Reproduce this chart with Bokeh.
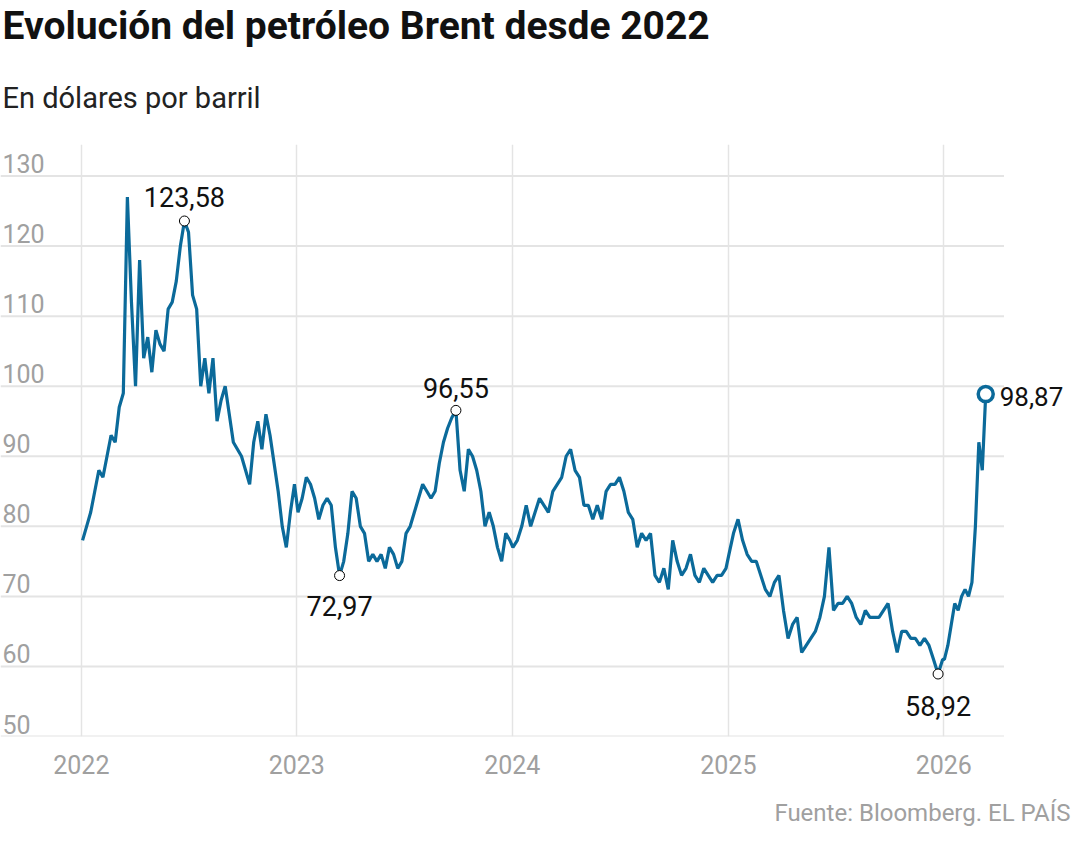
import pandas as pd
from bokeh.plotting import figure
from bokeh.models import Title, Label, FixedTicker, DatetimeTickFormatter, Range1d
from bokeh.core.properties import value
from bokeh.embed import file_html
from bokeh.resources import INLINE

v2022 = [78, 80, 82, 85, 88, 87, 90, 93, 92, 97, 99, 127, 112, 100, 118, 104, 107, 102, 108, 106,
         105, 111, 112, 115, 120, 123.58, 122, 113, 111, 100, 104, 99, 104, 95, 98, 100, 96,
         92, 91, 90, 88, 86, 92, 95, 91, 96, 93, 89, 85, 80, 77, 82, 86]
v2023 = [82, 84, 87, 86, 84, 81, 83, 84, 83, 77, 72.97, 75, 79, 85, 84, 80, 79, 75, 76, 75, 76,
         74, 77, 76, 74, 75, 79, 80, 82, 84, 86, 85, 84, 85, 89, 92, 94, 95.5, 96.55,
         88, 85, 91, 90, 88, 85, 80, 82, 80, 77, 75, 79, 78]
v2024 = [77, 78, 80, 83, 80, 82, 84, 83, 82, 85, 86, 87, 90, 91, 88, 87, 83, 83, 81, 83,
         81, 85, 86, 86, 87, 85, 82, 81, 77, 79, 78, 79, 73, 72, 74, 71, 78, 75, 73, 74, 76,
         73, 72, 74, 73, 72, 73, 73, 74]
v2025 = [76, 79, 81, 78, 76, 75, 75, 73, 71, 70, 72, 73, 68, 64, 66, 67, 62, 63, 64, 65,
         67, 70, 77, 68, 69, 69, 70, 69, 67, 66, 68, 67, 67, 67, 68, 69, 65, 62, 65, 65,
         64, 64, 63, 64, 63, 61, 58.92, 61]
v2026 = [61, 63, 66, 69, 68, 70, 71, 70, 72, 80, 92, 88, 98.87]

dates = []
values = []
for start, end, vals in [("2022-01-03", "2022-12-28", v2022), ("2023-01-03", "2023-12-28", v2023),
                         ("2024-01-02", "2024-12-28", v2024), ("2025-01-02", "2025-12-30", v2025),
                         ("2026-01-02", "2026-03-13", v2026)]:
    dates += list(pd.date_range(start, end, periods=len(vals)))
    values += vals

ann_vals = [123.58, 72.97, 96.55, 58.92]
ann_dates = [dates[values.index(v)] for v in ann_vals]
ann_text = ["123,58", "72,97", "96,55", "58,92"]
last_date = [dates[-1]]
last_val = [values[-1]]
yticks = [50, 60, 70, 80, 90, 100, 110, 120, 130]
ylabels = [str(t) for t in yticks]
xyears = [2022, 2023, 2024, 2025, 2026]

blue = "#0b6a9a"
gray = "#a0a0a0"
gridc = "#e4e4e4"
x0 = pd.Timestamp("2021-08-17")
x_grid_end = pd.Timestamp("2026-04-13")
y0, y1 = 50, 134.5

p = figure(width=1072, height=846, x_axis_type="datetime", output_backend="svg",
           toolbar_location=None,
           min_border_left=0, min_border_right=0, min_border_top=138, min_border_bottom=108,
           x_range=Range1d(x0, pd.Timestamp("2026-08-07")),
           y_range=Range1d(y0, y1))
p.outline_line_color = None

p.add_layout(Title(text="Fuente: Bloomberg. EL PAÍS", align="right", text_font="Roboto",
                   text_font_size="24px", text_color=gray, text_font_style="normal",
                   standoff=40, offset=2), "below")
p.add_layout(Title(text="En dólares por barril", text_font="Roboto", text_font_size="29px",
                   text_font_style="normal", text_color="#222222", offset=2, standoff=60), "above")
p.add_layout(Title(text="Evolución del petróleo Brent desde 2022", text_font="Roboto",
                   text_font_size="39px", text_font_style="bold", text_color="#111111",
                   offset=2, standoff=0), "above")

p.yaxis.visible = False
p.xaxis.ticker = FixedTicker(ticks=[pd.Timestamp(f"{y}-01-01").value / 1e6 for y in xyears])
p.xaxis.formatter = DatetimeTickFormatter(years="%Y", months="%Y", days="%Y")
p.xaxis.major_label_text_font = "Roboto"
p.xaxis.major_label_text_font_size = "25px"
p.xaxis.major_label_text_color = gray
p.xaxis.major_tick_line_color = None
p.xaxis.minor_tick_line_color = None
p.xaxis.axis_line_color = None
p.xaxis.major_label_standoff = 12
p.ygrid.grid_line_color = None
p.xgrid.grid_line_color = gridc
p.xgrid.grid_line_width = 1.5

p.segment(x0=[x0] * len(yticks), y0=yticks, x1=[x_grid_end] * len(yticks), y1=yticks,
          line_color=gridc, line_width=2)
p.text(x=[x0] * len(yticks), y=yticks, text=ylabels, text_align="left", text_baseline="bottom",
       x_offset=2, y_offset=-3, text_font=value("Roboto"), text_font_size="25px", text_color=gray)

p.line(dates, values, line_color=blue, line_width=3.2)
p.scatter(ann_dates, ann_vals, size=10, fill_color="white", line_color="black", line_width=1)
offsets = [14, -40, 12, -42]
for d, v, t, dy in zip(ann_dates, ann_vals, ann_text, offsets):
    p.add_layout(Label(x=d, y=v, text=t, text_align="center", y_offset=dy,
                       text_font="Roboto", text_font_size="27px", text_color="#111111"))
p.scatter(last_date, last_val, size=15, fill_color="white", line_color=blue, line_width=3.5)
p.add_layout(Label(x=last_date[0], y=last_val[0], text="98,87", x_offset=14, y_offset=-12,
                   text_font="Roboto", text_font_size="26px", text_color="#111111"))

open("out.html", "w").write(file_html(p, INLINE))
